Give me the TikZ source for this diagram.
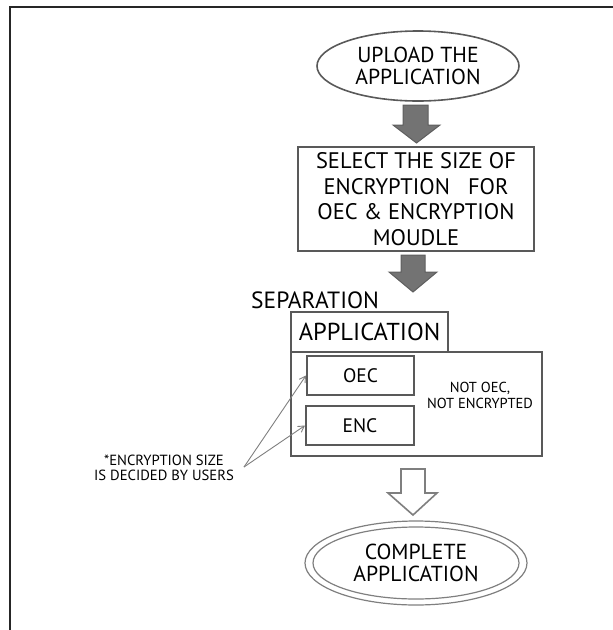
\documentclass[tikz,border=0pt]{standalone}
\usepackage{fontspec}
\setmainfont{PT Sans}
\usetikzlibrary{shapes.geometric,arrows.meta}
\definecolor{boxline}{HTML}{595959}
\definecolor{arrfill}{HTML}{737373}
\definecolor{arrline}{HTML}{5E5E5E}
\definecolor{lightline}{HTML}{7F7F7F}
\tikzset{
  boxnode/.style={draw=boxline, line width=2pt, rectangle, inner sep=0pt, align=center},
  ovalnode/.style={draw=boxline, line width=1.6pt, ellipse, inner sep=0pt, align=center},
  ringnode/.style={draw=lightline, line width=1.2pt, ellipse, inner sep=0pt},
  grayarr/.style={fill=arrfill, draw=arrline, line width=1pt, line join=miter},
  hollowarr/.style={fill=white, draw=lightline, line width=1.6pt, line join=miter},
  pointer/.style={draw=lightline, line width=0.9pt, -{Straight Barb[length=6pt,width=7pt]}},
}
\begin{document}
\begin{tikzpicture}[x=1pt,y=-1pt]
\useasboundingbox (0,0) rectangle (613,630);
% frame (top and left edges)
\draw[line width=2.4pt, black!85] (613,7) -- (10,7) -- (10,630);

% upload ellipse
\node[ovalnode, minimum width=202pt, minimum height=70pt, font=\fontsize{21.7}{22}\selectfont] (up) at (418,66) {UPLOAD THE\\APPLICATION};

% arrow 1
\draw[grayarr] (403,105) -- (428,105) -- (428,125) -- (440,125) -- (416.5,143) -- (393,125) -- (403,125) -- cycle;

% select box
\node[boxnode, minimum width=236pt, minimum height=104pt, font=\fontsize{22.5}{25.5}\selectfont] (sel) at (416,199) {SELECT THE SIZE OF\\ENCRYPTION~~~FOR\\OEC \& ENCRYPTION\\MOUDLE};

% arrow 2
\draw[grayarr] (401,255) -- (425,255) -- (425,272) -- (437,272) -- (413,292) -- (389,272) -- (401,272) -- cycle;

% separation label
\node[anchor=west, inner sep=0pt, font=\fontsize{23.5}{24}\selectfont] (sep) at (251,300) {SEPARATION};

% big box and application tab
\node[boxnode, minimum width=251pt, minimum height=104pt] (big) at (416.5,404) {};
\node[boxnode, minimum width=157pt, minimum height=40pt, font=\fontsize{24.5}{25}\selectfont] (app) at (369.5,332) {APPLICATION};

% OEC and ENC
\node[boxnode, minimum width=107pt, minimum height=39pt, font=\fontsize{19.5}{22}\selectfont] (oec) at (360.5,375.5) {OEC};
\node[boxnode, minimum width=108pt, minimum height=39pt, font=\fontsize{19.5}{22}\selectfont] (enc) at (360,425.5) {ENC};

% not OEC text
\node[align=center, inner sep=0pt, font=\fontsize{14.5}{16}\selectfont] (notoec) at (480,395) {NOT OEC,\\NOT ENCRYPTED};

% user label with pointers
\node[align=center, inner sep=0pt, font=\fontsize{14.7}{14.5}\selectfont] (lab) at (164,468) {*ENCRYPTION SIZE\\IS DECIDED BY USERS};
\coordinate (labtip) at (244,467);
\draw[pointer] (labtip) -- (oec.west);
\draw[pointer] (labtip) -- (enc.west);

% hollow arrow
\draw[hollowarr] (401,469) -- (425,469) -- (425,493) -- (437,493) -- (413,515) -- (388,493) -- (401,493) -- cycle;

% complete ellipse (double ring)
\node[ringnode, minimum width=222pt, minimum height=84pt] (compo) at (416,563) {};
\node[ringnode, minimum width=206pt, minimum height=72pt, align=center, font=\fontsize{21.7}{22}\selectfont] (comp) at (416,563) {COMPLETE\\APPLICATION};
\end{tikzpicture}
\end{document}
